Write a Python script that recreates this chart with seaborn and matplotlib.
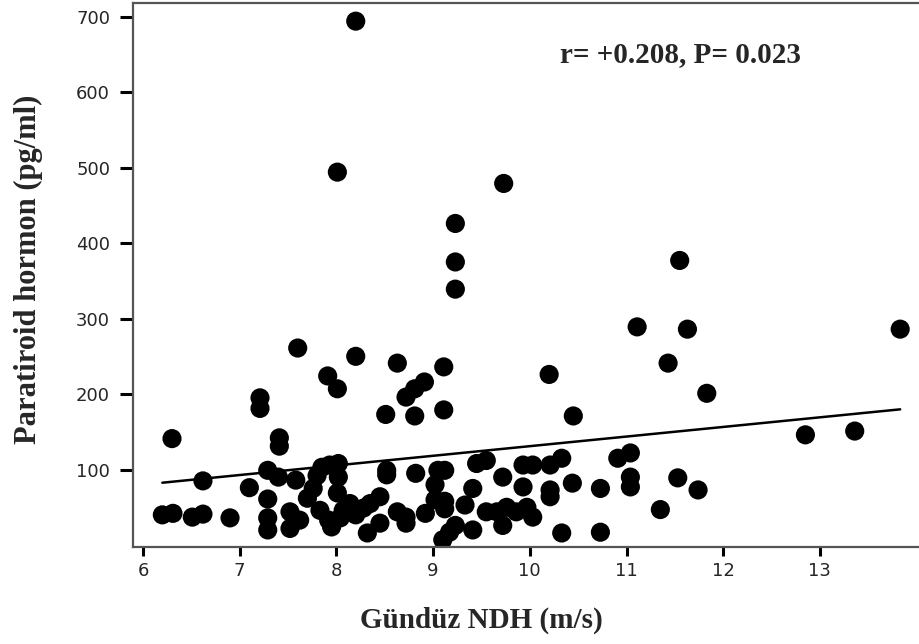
import seaborn as sns
import matplotlib.pyplot as plt
import pandas as pd

# values
gunduz_ndh = [
    6.20, 6.31, 6.30, 6.51, 6.62, 6.62, 6.90,
    7.10, 7.21, 7.21, 7.29, 7.29, 7.29, 7.29, 7.41, 7.41, 7.40,
    7.52, 7.52, 7.62, 7.58, 7.60, 7.70, 7.76, 7.80, 7.85, 7.83, 7.93, 7.92, 7.95,
    7.91, 8.01, 8.01, 8.02, 8.02, 8.01, 8.04, 8.07,
    8.14, 8.20, 8.20, 8.20, 8.28, 8.32, 8.35, 8.45, 8.45, 8.51, 8.52, 8.52,
    8.63, 8.63, 8.72, 8.81, 8.91, 8.81, 8.72, 8.72, 8.82, 8.92, 9.02, 9.02,
    9.05, 9.12, 9.11, 9.11, 9.12, 9.12, 9.10,
    9.17, 9.23, 9.23, 9.23, 9.23, 9.33, 9.41, 9.41, 9.45, 9.55, 9.55,
    9.66, 9.73, 9.72, 9.72, 9.76, 9.86, 9.93, 10.03, 9.93, 9.97, 10.03,
    10.20, 10.21, 10.33, 10.21, 10.21, 10.33, 10.44, 10.45,
    10.73, 10.73, 10.91, 11.04, 11.04, 11.04, 11.11, 11.35, 11.43, 11.53,
    11.55, 11.63, 11.74, 11.83,
    12.85, 13.36, 13.83,
]
paratiroid = [
    40, 42, 141, 37, 41, 85, 36,
    76, 195, 181, 99, 61, 36, 20, 142, 131, 90,
    44, 22, 33, 86, 261, 62, 75, 92, 103, 46, 106, 33, 24,
    224, 207, 494, 108, 90, 69, 36, 46,
    55, 40, 694, 250, 49, 16, 55, 64, 29, 173, 99, 93,
    241, 44, 196, 207, 216, 171, 37, 29, 95, 42, 80, 60,
    99, 99, 236, 179, 58, 48, 7,
    17, 26, 426, 375, 339, 53, 75, 20, 108, 112, 44,
    44, 479, 90, 26, 50, 44, 106, 106, 77, 50, 37,
    226, 106, 115, 73, 64, 16, 82, 171,
    75, 17, 115, 122, 90, 77, 289, 47, 241, 89,
    377, 286, 73, 201,
    146, 151, 286,
]
df = pd.DataFrame({"ndh": gunduz_ndh, "pth": paratiroid})

sns.set_style("ticks")
fig = plt.figure(figsize=(9.2, 6.44), dpi=100)
ax = fig.add_axes([0.1446, 0.1506, 0.8554, 0.8447])

sns.regplot(data=df, x="ndh", y="pth", ci=None, ax=ax,
            scatter_kws={"s": 190, "color": "black", "edgecolor": "none", "alpha": 1},
            line_kws={"color": "black", "lw": 1.8})

ax.set_xlim(5.897, 14.035)
ax.set_ylim(-2.6, 718)
ax.set_xticks(range(6, 14))
ax.set_yticks(range(100, 800, 100))

for side in ["left", "bottom", "top"]:
    ax.spines[side].set_color("#555555")
    ax.spines[side].set_linewidth(1.6)
ax.spines["right"].set_visible(False)
ax.tick_params(axis="y", length=9.5, width=2.2, color="black", labelsize=13, pad=7)
ax.tick_params(axis="x", length=6.5, width=2.2, color="black", labelsize=13, pad=4)

serif = ["Liberation Serif", "DejaVu Serif"]
ax.set_xlabel("Gündüz NDH (m/s)", fontsize=21, fontweight="bold", family=serif)
ax.xaxis.set_label_coords(0.443, -0.11)
ax.set_ylabel("Paratiroid hormon (pg/ml)", fontsize=22, fontweight="bold", family=serif)
ax.yaxis.set_label_coords(-0.114, 0.51)
ax.text(0.695, 0.905, "r= +0.208, P= 0.023", transform=ax.transAxes,
        fontsize=21, fontweight="bold", family=serif, ha="center", va="center")

fig.savefig("out.png", dpi=100)
